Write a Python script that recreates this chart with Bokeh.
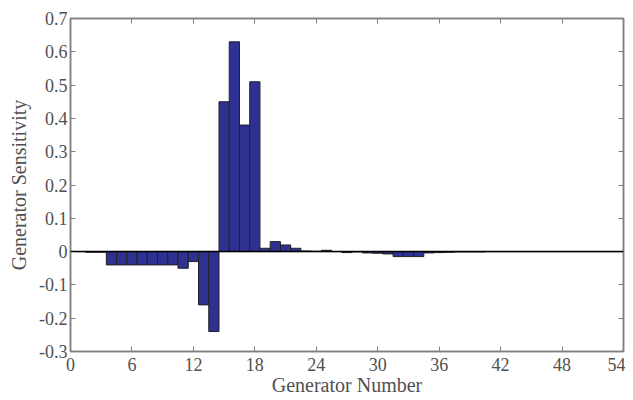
from bokeh.plotting import figure
from bokeh.models import LinearAxis, FixedTicker, Span, ColumnDataSource, Range1d
from bokeh.embed import file_html
from bokeh.resources import INLINE

generators = list(range(1, 55))
sensitivity = [0.0, -0.002, -0.002, -0.04, -0.04, -0.04, -0.04, -0.04, -0.04, -0.04,
               -0.05, -0.03, -0.16, -0.24, 0.45, 0.63, 0.38, 0.51, 0.01, 0.03,
               0.02, 0.01, 0.002, 0.001, 0.004, 0.0, -0.003, -0.001, -0.004, -0.005,
               -0.007, -0.015, -0.015, -0.015, -0.004, -0.003, -0.002, -0.001, -0.001, -0.001,
               0.0, 0.0, 0.0, 0.0, 0.0, 0.0, 0.0, 0.0, 0.0, 0.0,
               0.0, 0.0, 0.0, 0.0]
x_ticks = [0, 6, 12, 18, 24, 30, 36, 42, 48, 54]
y_ticks = [-0.3, -0.2, -0.1, 0, 0.1, 0.2, 0.3, 0.4, 0.5, 0.6, 0.7]
y_labels = {-0.3: "-0.3", -0.2: "-0.2", -0.1: "-0.1", 0: "0", 0.1: "0.1", 0.2: "0.2",
            0.3: "0.3", 0.4: "0.4", 0.5: "0.5", 0.6: "0.6", 0.7: "0.7"}

FONT = "Liberation Serif"
AX = "#808080"
TXT = "#505050"

p = figure(width=625, height=398, output_backend="svg", toolbar_location=None,
           x_range=Range1d(0, 54), y_range=Range1d(-0.3, 0.7),
           min_border_left=70, min_border_right=2, min_border_top=18, min_border_bottom=47,
           x_axis_location=None, y_axis_location=None)
p.grid.visible = False
p.outline_line_color = AX
p.outline_line_width = 1.5

src = ColumnDataSource(dict(x=generators, top=sensitivity))
p.vbar(x="x", top="top", width=1, bottom=0, source=src,
       fill_color="#2E3192", line_color="#222222", line_width=1)
p.add_layout(Span(location=0, dimension="width", line_color="black", line_width=1.5))

def style(ax, labels=True):
    ax.axis_line_color = AX
    ax.axis_line_width = 1.5
    ax.major_tick_line_color = AX
    ax.major_tick_in = 5
    ax.major_tick_out = 0
    ax.minor_tick_line_color = None
    ax.major_label_text_font = FONT
    if labels:
        ax.major_label_text_color = TXT
        ax.major_label_text_font_size = "18px"
        ax.major_label_standoff = 3
    else:
        ax.major_label_text_color = None
        ax.major_label_text_font_size = "1px"
        ax.major_label_standoff = 0
    ax.axis_label_text_font = FONT
    ax.axis_label_text_font_style = "normal"
    ax.axis_label_text_color = TXT
    ax.axis_label_text_font_size = "20px"

xb = LinearAxis(ticker=FixedTicker(ticks=x_ticks), axis_label="Generator Number")
style(xb)
xb.major_label_standoff = 6
xb.axis_label_standoff = 0
p.add_layout(xb, "below")
yl = LinearAxis(ticker=FixedTicker(ticks=y_ticks), axis_label="Generator Sensitivity")
style(yl)
yl.major_label_overrides = y_labels
yl.axis_label_standoff = 6
p.add_layout(yl, "left")
xt = LinearAxis(ticker=FixedTicker(ticks=x_ticks))
style(xt, labels=False)
p.add_layout(xt, "above")
yr = LinearAxis(ticker=FixedTicker(ticks=y_ticks))
style(yr, labels=False)
p.add_layout(yr, "right")

open("out.html", "w").write(file_html(p, INLINE))
